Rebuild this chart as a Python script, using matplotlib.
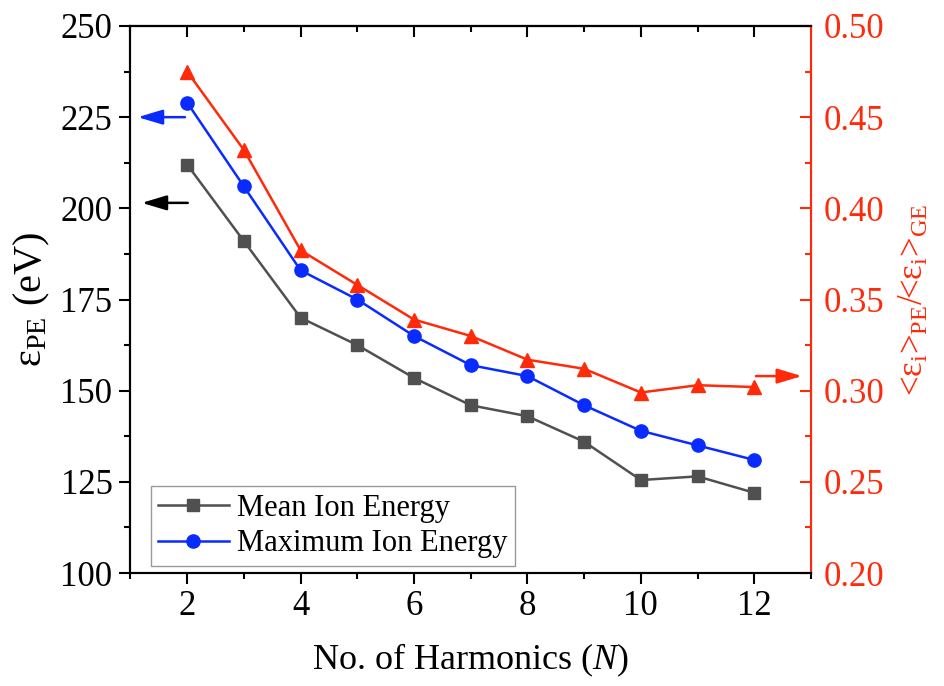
import matplotlib.pyplot as plt
from matplotlib.ticker import MultipleLocator, NullFormatter

plt.rcParams["font.family"] = ["Liberation Serif", "DejaVu Serif"]
plt.rcParams["mathtext.fontset"] = "custom"
plt.rcParams["mathtext.rm"] = "Liberation Serif"
plt.rcParams["mathtext.it"] = "Liberation Serif:italic"

# harmonics and ion energies
harmonics = [2, 3, 4, 5, 6, 7, 8, 9, 10, 11, 12]
mean_energy = [212, 191, 170, 162.5, 153.5, 146, 143, 136, 125.5, 126.5, 122]
max_energy = [229, 206, 183, 175, 165, 157, 154, 146, 139, 135, 131]
energy_ratio = [0.475, 0.432, 0.377, 0.358, 0.339, 0.330, 0.317, 0.312,
                0.299, 0.303, 0.302]

GRAY = "#505050"
BLUE = "#0a2bff"
RED = "#ff2a0a"
LW = 1.5

fig = plt.figure(figsize=(9.44, 6.86), dpi=100)
ax = fig.add_axes([0.1382, 0.1647, 0.7209, 0.7974])
ax2 = ax.twinx()

ax.plot(harmonics, mean_energy, color=GRAY, marker="s", markersize=8.5,
        linewidth=1.8, label="Mean Ion Energy")
ax.plot(harmonics, max_energy, color=BLUE, marker="o", markersize=9.5,
        linewidth=1.8, label="Maximum Ion Energy")
ax2.plot(harmonics, energy_ratio, color=RED, marker="^", markersize=10.5,
         linewidth=1.8)

ax.set_xlim(1, 13)
ax.set_ylim(100, 250)
ax2.set_ylim(0.20, 0.50)

ax.xaxis.set_major_locator(MultipleLocator(2))
ax.xaxis.set_minor_locator(MultipleLocator(1))
ax.yaxis.set_major_locator(MultipleLocator(25))
ax.yaxis.set_minor_locator(MultipleLocator(12.5))
ax2.yaxis.set_major_locator(MultipleLocator(0.05))
ax2.yaxis.set_minor_locator(MultipleLocator(0.025))

# bottom and left ticks point out, top and right ticks point in
ax.tick_params(which="both", direction="out", top=False, right=False,
               labelsize=25, width=LW)
ax.tick_params(which="major", length=8)
ax.tick_params(which="minor", length=4)
ax.tick_params(axis="x", pad=4)
ax.tick_params(axis="y", pad=5)

top = ax.secondary_xaxis("top")
top.xaxis.set_major_locator(MultipleLocator(2))
top.xaxis.set_minor_locator(MultipleLocator(1))
top.xaxis.set_major_formatter(NullFormatter())
top.tick_params(which="both", direction="in", width=LW)
top.tick_params(which="major", length=8)
top.tick_params(which="minor", length=4)
top.spines["top"].set_linewidth(LW)

ax2.tick_params(which="both", direction="in", colors=RED, labelsize=25,
                width=LW, pad=9)
ax2.tick_params(which="major", length=8)
ax2.tick_params(which="minor", length=4)
ax2.yaxis.set_major_formatter(lambda v, p: f"{v:.2f}")

for side in ["left", "top", "bottom"]:
    ax.spines[side].set_linewidth(LW)
    ax2.spines[side].set_linewidth(LW)
ax2.spines["right"].set_color(RED)
ax2.spines["right"].set_linewidth(LW)

ax.set_xlabel("No. of Harmonics ($\\mathit{N}$)", fontsize=26, labelpad=14)
ax.set_ylabel("ε$_{\\mathrm{PE}}$ (eV)", fontsize=29, labelpad=6)
ax2.set_ylabel("<ε$_{\\mathrm{i}}$>$_{\\mathrm{PE}}$/<ε$_{\\mathrm{i}}$>$_{\\mathrm{GE}}$",
               fontsize=25, color=RED, labelpad=10)

# arrows pointing to the axis each series belongs to
arrow = dict(arrowstyle="-|>,head_length=1.5,head_width=0.45",
             lw=1.8, mutation_scale=10, shrinkA=0, shrinkB=0)
ax.annotate("", xy=(1.13, 225), xytext=(1.96, 225),
            arrowprops=dict(arrow, color=BLUE))
ax.annotate("", xy=(1.2, 201.5), xytext=(2.01, 201.5),
            arrowprops=dict(arrow, color="black"))
ax2.annotate("", xy=(12.84, 0.308), xytext=(12.03, 0.308),
             arrowprops=dict(arrow, color=RED))

leg = ax.legend(loc="lower left", bbox_to_anchor=(0.0297, 0.0128),
                borderaxespad=0, fontsize=22, frameon=True, fancybox=False,
                handlelength=2.3, borderpad=0.25, labelspacing=0.22,
                handletextpad=0.26)
leg.get_frame().set_edgecolor("#808080")
leg.get_frame().set_linewidth(1.0)

fig.savefig("out.png", dpi=100)
